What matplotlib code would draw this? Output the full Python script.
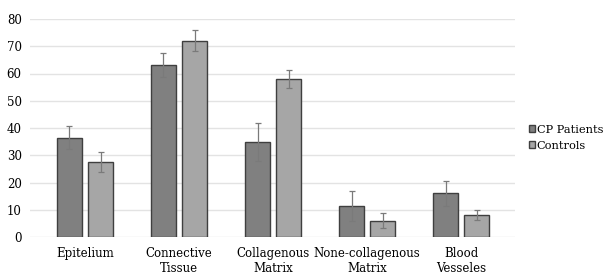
import matplotlib.pyplot as plt
import numpy as np

categories = ["Epitelium", "Connective\nTissue", "Collagenous\nMatrix",
              "None-collagenous\nMatrix", "Blood\nVesseles"]
cp_values = [36.5, 63.0, 35.0, 11.2, 16.0]
cp_errors = [4.3, 4.4, 7.0, 5.5, 4.5]
ctrl_values = [27.5, 72.0, 58.0, 6.0, 8.2]
ctrl_errors = [3.8, 3.8, 3.4, 2.7, 1.8]
yticks = [0, 10, 20, 30, 40, 50, 60, 70, 80]

plt.rcParams["font.family"] = ["DejaVu Serif"]

fig = plt.figure(figsize=(6.04, 2.77), dpi=100)
ax = fig.add_axes([30 / 604, 1 - 237 / 277, 485 / 604, 218 / 277])

x = np.arange(len(categories))
w = 0.266
off = 0.165
err_kw = dict(ecolor="#7a7a7a", elinewidth=0.9, capsize=2.5, capthick=0.9)
ax.bar(x - off, cp_values, w, yerr=cp_errors, color="#808080",
       edgecolor="#3f3f3f", linewidth=1.0, label="CP Patients",
       error_kw=err_kw, zorder=3)
ax.bar(x + off, ctrl_values, w, yerr=ctrl_errors, color="#a6a6a6",
       edgecolor="#3f3f3f", linewidth=1.0, label="Controls",
       error_kw=err_kw, zorder=3)

ax.set_xlim(-0.585, 4.574)
ax.set_ylim(0, 80)
ax.set_yticks(yticks)
ax.set_xticks(x)
ax.set_xticklabels(categories, fontsize=8.5, linespacing=1.25)
ax.tick_params(axis="y", labelsize=8.5, length=0, pad=6)
ax.tick_params(axis="x", length=0, pad=7)
ax.grid(axis="y", color="#e3e3e3", linewidth=1.0, zorder=0)
for s in ax.spines.values():
    s.set_visible(False)

fig.legend(loc="upper left", bbox_to_anchor=(524 / 604, 1 - 120 / 277),
           frameon=False, fontsize=8.2, handlelength=0.55, handleheight=0.55,
           handletextpad=0.15, labelspacing=0.55, borderaxespad=0)

fig.savefig("out.png", dpi=100)
